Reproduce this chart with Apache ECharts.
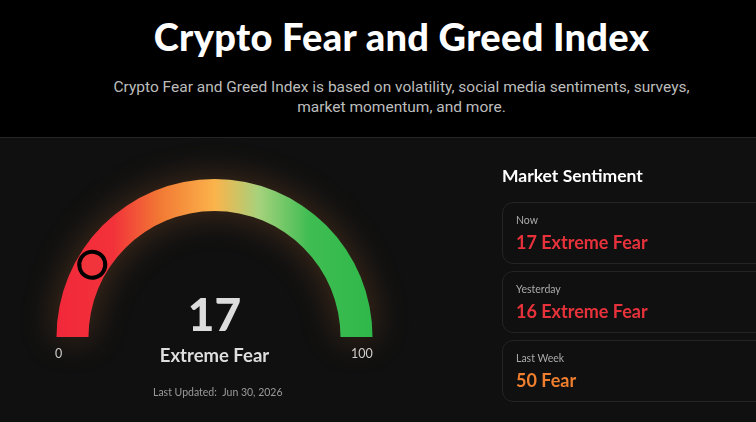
<!DOCTYPE html>
<html>
<head>
<meta charset="utf-8">
<script src="https://cdn.jsdelivr.net/npm/echarts@6/dist/echarts.min.js"></script>
<style>
  html, body { margin: 0; padding: 0; background: #000; overflow: hidden; }
  #page { position: relative; width: 756px; height: 422px; font-family: Lato, "Noto Sans", sans-serif; }
  #header { position: absolute; left: 0; top: 0; width: 756px; height: 137px; background: #000; border-bottom: 1px solid #262626; }
  #header h1 { position: absolute; left: 0; width: 803px; top: 13px; margin: 0; text-align: center; color: #fff; font-size: 38px; font-weight: 900; letter-spacing: 0.3px; }
  #header p { position: absolute; left: 0; width: 803px; top: 77px; margin: 0; text-align: center; color: #bdbdbd; font-family: Roboto, sans-serif; font-size: 15.5px; line-height: 20px; }
  #panel { position: absolute; left: 0; top: 138px; width: 756px; height: 284px; background: #101010; }
  #chart { position: absolute; left: 0; top: 0; width: 756px; height: 422px; }
  #side { position: absolute; left: 502px; top: 163px; }
  #side h2 { margin: 0 0 14px 0; color: #fff; font-size: 17.5px; font-weight: 700; height: 25px; line-height: 25px; }
  .card { width: 300px; height: 62px; border: 1px solid #242424; border-radius: 11px; margin-bottom: 7px; box-sizing: border-box; padding: 10px 13px; }
  .card .lbl { color: #aaa; font-size: 10.5px; height: 14px; line-height: 14px; }
  .card .val { font-size: 18px; font-weight: 700; margin-top: 4px; height: 22px; line-height: 22px; }
</style>
</head>
<body>
<div id="page">
  <div id="header">
    <h1>Crypto Fear and Greed Index</h1>
    <p>Crypto Fear and Greed Index is based on volatility, social media sentiments, surveys,<br>market momentum, and more.</p>
  </div>
  <div id="panel"></div>
  <div id="chart"></div>
  <div id="side">
    <h2>Market Sentiment</h2>
    <div id="cards"></div>
  </div>
</div>
<script>
// 当前指数
var indexValue = 17;
var indexLabel = 'Extreme Fear';
var lastUpdated = 'Last Updated:  Jun 30, 2026';
var axisMin = 0;
var axisMax = 100;

// 右侧历史数据
var periodNames = ['Now', 'Yesterday', 'Last Week'];
var periodValues = [17, 16, 50];
var periodLabels = ['Extreme Fear', 'Extreme Fear', 'Fear'];
var periodColors = ['#e8323b', '#e8323b', '#ef7f2e'];

var cardsHtml = '';
for (var i = 0; i < periodNames.length; i++) {
    cardsHtml += '<div class="card"><div class="lbl">' + periodNames[i] + '</div>' +
        '<div class="val" style="color:' + periodColors[i] + '">' + periodValues[i] + ' ' + periodLabels[i] + '</div></div>';
}
document.getElementById('cards').innerHTML = cardsHtml;

var myChart = echarts.init(document.getElementById('chart'));

var arcGradient = new echarts.graphic.LinearGradient(0, 0, 1, 0, [
    { offset: 0, color: '#f2283a' },
    { offset: 0.18, color: '#f2323a' },
    { offset: 0.33, color: '#f27a34' },
    { offset: 0.5, color: '#fbb34b' },
    { offset: 0.64, color: '#a6d27c' },
    { offset: 0.8, color: '#3fbd52' },
    { offset: 1, color: '#2fb84a' }
]);

var option = {
    backgroundColor: 'transparent',
    graphic: [
        { type: 'text', left: 55, top: 347, style: { text: String(axisMin), fill: '#cfcfcf', font: '12.5px Lato' } },
        { type: 'text', left: 351, top: 347, style: { text: String(axisMax), fill: '#cfcfcf', font: '12.5px Lato' } },
        { type: 'text', left: 153, top: 387, style: { text: lastUpdated, fill: '#9a9a9a', font: '10.5px Lato' } }
    ],
    series: [{
        type: 'gauge',
        center: [214.5, 337],
        radius: 158,
        startAngle: 180,
        endAngle: 0,
        min: axisMin,
        max: axisMax,
        axisLine: {
            roundCap: false,
            lineStyle: {
                width: 32,
                color: [[1, arcGradient]],
                shadowBlur: 35,
                shadowColor: 'rgba(225,130,60,0.28)'
            }
        },
        progress: { show: false },
        splitLine: { show: false },
        axisTick: { show: false },
        axisLabel: { show: false },
        pointer: {
            icon: 'circle',
            length: 26,
            width: 26,
            offsetCenter: [0, -129],
            itemStyle: {
                color: '#f1343b',
                borderColor: '#000',
                borderWidth: 4
            }
        },
        anchor: { show: false },
        title: {
            offsetCenter: [0, 19],
            color: '#dedede',
            fontSize: 18.5,
            fontWeight: 700,
            fontFamily: 'Lato'
        },
        detail: {
            offsetCenter: [0, -21],
            color: '#dcdcdc',
            fontSize: 46,
            fontWeight: 900,
            fontFamily: 'Lato',
            formatter: '{value}'
        },
        data: [{ value: indexValue, name: indexLabel }]
    }]
};
myChart.setOption(option);
</script>
</body>
</html>
